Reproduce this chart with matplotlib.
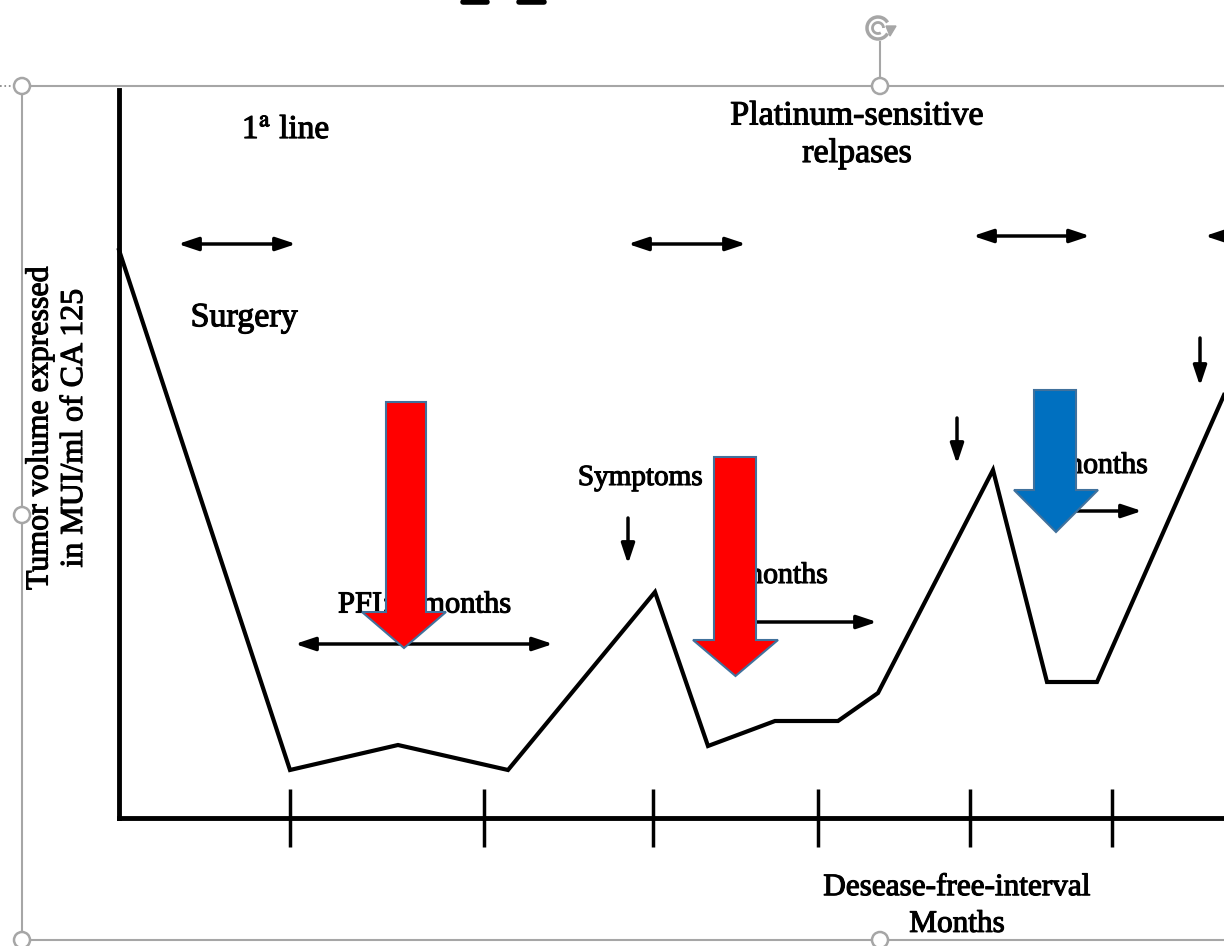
import matplotlib
matplotlib.use("Agg")
import matplotlib.pyplot as plt
import matplotlib.patheffects as pe
from matplotlib.patches import Polygon, Circle, Arc

plt.rcParams["font.family"] = ["Liberation Serif", "DejaVu Serif"]
plt.rcParams["mathtext.fontset"] = "stix"

# tumour volume curve (schematic units: x from the y axis, y from the x axis)
months = [0, 171, 279, 389, 536, 589, 656, 719, 759, 874, 928, 978, 1105]
ca125 = [568, 48, 73, 48, 226, 72, 97, 97, 125, 348, 136, 136, 423]
tick_pos = [171, 365, 534, 699, 851, 993]

W, H = 1224, 946
fig = plt.figure(figsize=(W / 100, H / 100), dpi=100)

# overlay in pixel coordinates for labels, arrows and the selection frame
ov = fig.add_axes([0, 0, 1, 1])
ov.set_xlim(0, W)
ov.set_ylim(H, 0)
ov.axis("off")

# chart axes
x0, y0, x1, y1 = 119, 818, 1224, 90
ax = fig.add_axes([x0 / W, 1 - y0 / H, (x1 - x0) / W, (y0 - y1) / H])
ax.patch.set_alpha(0)
ax.plot(months, ca125, color="black", lw=3, solid_joinstyle="miter", clip_on=False)
ax.set_xlim(0, x1 - x0)
ax.set_ylim(0, y0 - y1)
for s in ["top", "right"]:
    ax.spines[s].set_visible(False)
for s in ["left", "bottom"]:
    ax.spines[s].set_linewidth(3.5)
ax.set_xticks(tick_pos)
ax.set_xticklabels([])
ax.set_yticks([])
ax.tick_params(axis="x", direction="inout", length=42, width=2.5)

bold = [pe.withStroke(linewidth=0.8, foreground="black")]


def label(x, y, s, size, **kw):
    ov.text(x, y, s, fontsize=size, va="center", path_effects=bold, **kw)


label(286, 130, r"1$^{\rm a}$ line", 24, ha="center")
label(857, 135, "Platinum-sensitive\nrelpases", 24.5, ha="center", linespacing=1.3)
label(244, 318, "Surgery", 24.5, ha="center")
label(640, 478, "Symptoms", 21, ha="center")
label(338, 605, "PFI: 6 months", 22, ha="left")
label(828, 576, "6 months", 21.5, ha="right")
label(1148, 466, "6 months", 21.5, ha="right")
label(57, 428, "Tumor volume expressed\nin MUI/ml of CA 125", 23, ha="center",
      rotation=90, linespacing=1.25)
label(957, 906, "Desease-free-interval\nMonths", 22.5, ha="center", linespacing=1.35)

both = dict(arrowstyle="<|-|>,head_length=1.2,head_width=0.4", lw=2.5, color="black",
            shrinkA=0, shrinkB=0)
one = dict(arrowstyle="-|>,head_length=1.2,head_width=0.4", lw=2.5, color="black",
           shrinkA=0, shrinkB=0)
for xa, xb, yy in [(178, 296, 244), (628, 746, 244), (973, 1090, 236), (295, 553, 644)]:
    ov.annotate("", xy=(xb, yy), xytext=(xa, yy), arrowprops=both)
ov.annotate("", xy=(1205, 236), xytext=(1240, 236), arrowprops=one, annotation_clip=False)
ov.annotate("", xy=(877, 622), xytext=(715, 622), arrowprops=one)
ov.annotate("", xy=(1142, 511), xytext=(1060, 511), arrowprops=one)
for xx, ya, yb in [(628, 518, 564), (957, 418, 464), (1200, 338, 386)]:
    ov.annotate("", xy=(xx, yb), xytext=(xx, ya), arrowprops=one)


def block_arrow(xl, xr, top, neck, hl, hr, tip, color):
    xc = (hl + hr) / 2
    pts = [(xl, top), (xr, top), (xr, neck), (hr, neck), (xc, tip),
           (hl, neck), (xl, neck)]
    ov.add_patch(Polygon(pts, closed=True, facecolor=color, edgecolor="#41719C",
                         lw=1.5, zorder=10))


block_arrow(386, 426, 402, 612, 362, 446, 648, "#FF0000")
block_arrow(714, 756, 457, 640, 693, 778, 676, "#FF0000")
block_arrow(1034, 1076, 390, 490, 1014, 1098, 532, "#0070C0")

# selection frame of the picture
g = "#a6a6a6"
ov.plot([22, W], [86, 86], color=g, lw=1.5)
ov.plot([22, W], [940, 940], color=g, lw=1.5)
ov.plot([22, 22], [86, 940], color=g, lw=1.5)
ov.plot([0, 14], [86, 86], color="#808080", lw=1.2, ls=":")
ov.plot([880, 880], [42, 86], color=g, lw=1.5)
for cx, cy in [(22, 86), (880, 86), (22, 515), (22, 940), (880, 940)]:
    ov.add_patch(Circle((cx, cy), 8, facecolor="white", edgecolor=g, lw=1.8, zorder=11))
ov.add_patch(Arc((878, 28), 22, 22, theta1=30, theta2=330, color=g, lw=2.5))
ov.add_patch(Arc((878, 28), 11, 11, theta1=60, theta2=360, color=g, lw=2))
ov.add_patch(Polygon([(886, 26), (896, 26), (890, 36)], closed=True, color=g))
# bottoms of cropped glyphs above the frame
for xa, xb in [(463, 487), (519, 544)]:
    ov.plot([xa, xb], [2, 2], color="black", lw=4, solid_capstyle="round")

fig.savefig("out.png", dpi=100)
